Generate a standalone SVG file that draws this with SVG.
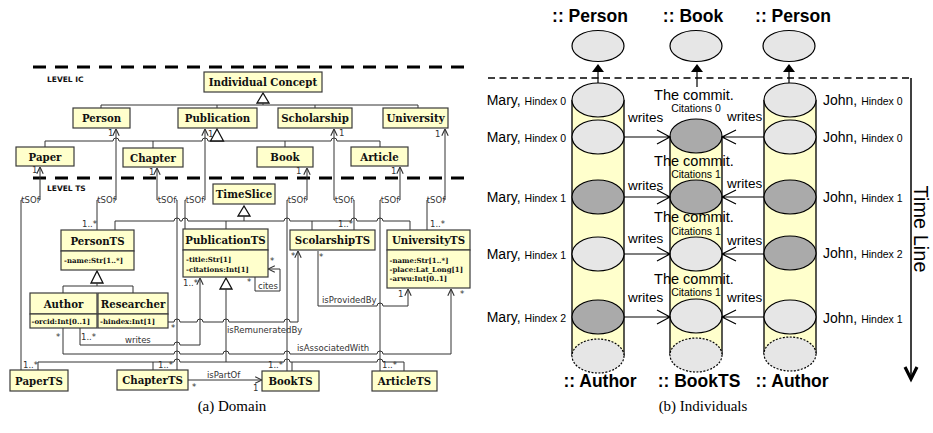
<svg xmlns="http://www.w3.org/2000/svg" width="933" height="433" viewBox="0 0 933 433">
<style>
.bx{fill:#ffffcc;stroke:#3a3a3a;stroke-width:1.2}
.cn{font-family:"DejaVu Serif",serif;font-weight:bold;font-size:10.2px;text-anchor:middle;fill:#111}
.at{font-family:"DejaVu Serif",serif;font-weight:bold;font-size:7px;fill:#111}
.lb{font-family:"DejaVu Sans",sans-serif;font-size:8.5px;fill:#333}
.lv{font-family:"DejaVu Sans",sans-serif;font-weight:bold;font-size:7.5px;fill:#111}
.ln{fill:none;stroke:#333;stroke-width:1}
.tri{fill:#fff;stroke:#111;stroke-width:1.3}
.dl{fill:none;stroke:#000;stroke-width:3;stroke-dasharray:13 9}
.wb{fill:#fff}
.cap{font-family:"Liberation Serif",serif;font-size:15px;fill:#000;text-anchor:middle}
.ti{font-family:"Liberation Sans",sans-serif;font-weight:bold;font-size:17.5px;text-anchor:middle}
.el{stroke:#000;stroke-width:1.2}
.lt{fill:#e6e6e6}
.dk{fill:#aaaaaa}
.cy{fill:#ffffcc}
.dsh{stroke-dasharray:2 1.5}
.sd{fill:none;stroke:#000;stroke-width:1.3}
.nm{font-family:"Liberation Sans",sans-serif;font-size:14px}
.sm{font-size:10.5px}
.wr{font-family:"Liberation Sans",sans-serif;font-size:13.5px}
.cm{font-family:"Liberation Sans",sans-serif;font-size:14.5px;text-anchor:middle}
.ct{font-family:"Liberation Sans",sans-serif;font-size:10.5px;text-anchor:middle}
.ar{fill:none;stroke:#000;stroke-width:1.2}
</style>
<defs>
<marker id="oa" viewBox="0 0 10 10" refX="9.5" refY="5" markerWidth="8" markerHeight="8" orient="auto-start-reverse" markerUnits="userSpaceOnUse"><path d="M1,1 L9.5,5 L1,9" fill="none" stroke="#333" stroke-width="1.4"/></marker>
</defs>

<!-- ===== (a) Domain ===== -->
<g id="levels">
<path class="dl" d="M33,67 H466"/>
<path class="dl" d="M33,178 H466"/>
<text class="lv" x="47" y="82">LEVEL IC</text>
<text class="lv" x="47" y="191">LEVEL TS</text>
</g>

<g id="domain-connectors">
<path class="tri" d="M263,93 L257,103 L269,103 Z"/>
<path class="ln" d="M263,103 V105 M101,108 V105 H418 V108 M217,105 V108 M315,105 V108"/>
<path class="ln" d="M45,147 V141 H113 a3,3 0 0 1 6,0 H202 a3,3 0 0 1 6,0 H331 a3,3 0 0 1 6,0 H380 V147 M153,141 V148 M285,141 V147"/>
<path class="tri" d="M217,129 L210.5,141 L223.5,141 Z"/>
<path class="ln" marker-start="url(#oa)" d="M40,167 V200 H21 V370"/>
<path class="ln" marker-start="url(#oa)" d="M116,129 V200 H97 V230"/>
<path class="ln" marker-start="url(#oa)" d="M157,168 V200 H177 V370"/>
<path class="ln" marker-start="url(#oa)" d="M205,129 V200 H185 V229"/>
<path class="ln" marker-start="url(#oa)" d="M307,168 V200 H287 V371"/>
<path class="ln" marker-start="url(#oa)" d="M334,129 V200 H354 V230"/>
<path class="ln" marker-start="url(#oa)" d="M400,167 V200 H380 V371"/>
<path class="ln" marker-start="url(#oa)" d="M445,129 V200 H427 V230"/>
<rect class="wb" x="22" y="195" width="17" height="9"/><text class="lb" x="30.5" y="203" text-anchor="middle">tSOf</text>
<rect class="wb" x="98" y="195" width="17" height="9"/><text class="lb" x="106.5" y="203" text-anchor="middle">tSOf</text>
<rect class="wb" x="158" y="195" width="18" height="9"/><text class="lb" x="167" y="203" text-anchor="middle">tSOf</text>
<rect class="wb" x="186" y="195" width="18" height="9"/><text class="lb" x="195" y="203" text-anchor="middle">tSOf</text>
<rect class="wb" x="288" y="195" width="18" height="9"/><text class="lb" x="297" y="203" text-anchor="middle">tSOf</text>
<rect class="wb" x="335" y="195" width="18" height="9"/><text class="lb" x="344" y="203" text-anchor="middle">tSOf</text>
<rect class="wb" x="381" y="195" width="18" height="9"/><text class="lb" x="390" y="203" text-anchor="middle">tSOf</text>
<rect class="wb" x="428" y="195" width="16" height="9"/><text class="lb" x="436" y="203" text-anchor="middle">tSOf</text>
<path class="tri" d="M244,206 L238,216 L250,216 Z"/>
<path class="ln" d="M244,216 V221 M115,230 V221 H174 a3,3 0 0 1 6,0 H182 a3,3 0 0 1 6,0 H284 a3,3 0 0 1 6,0 H351 a3,3 0 0 1 6,0 H377 a3,3 0 0 1 6,0 H410 V230 M226,221 V229 M312,221 V230"/>
<path class="tri" d="M97,271 L91,283 L103,283 Z"/>
<path class="ln" d="M97,283 V286 M63,293 V286 H133 V293"/>
<path class="tri" d="M226,278 L220,289 L232,289 Z"/>
<path class="ln" d="M226,289 V362 M38,370 V362 H174 a3,3 0 0 1 6,0 H284 a3,3 0 0 1 6,0 H377 a3,3 0 0 1 6,0 H404 V371 M153,362 V370 M292,362 V371"/>
<path class="ln" marker-end="url(#oa)" d="M80,328 V345 H174 a3,3 0 0 1 6,0 H200 V278"/>
<path class="ln" marker-end="url(#oa)" d="M63,328 V354 H174 a3,3 0 0 1 6,0 H223 a3,3 0 0 1 6,0 H284 a3,3 0 0 1 6,0 H377 a3,3 0 0 1 6,0 H451 V289"/>
<path class="ln" marker-end="url(#oa)" d="M168,322 H174 a3,3 0 0 1 6,0 H197 a3,3 0 0 1 6,0 H223 a3,3 0 0 1 6,0 H284 a3,3 0 0 1 6,0 H298 V251"/>
<path class="ln" marker-end="url(#oa)" d="M318,251 V306 H377 a3,3 0 0 1 6,0 H408 V289"/>
<path class="ln" marker-start="url(#oa)" d="M268,269 H280 V291 H255 V277"/>
<path class="ln" marker-end="url(#oa)" d="M188,380 H262"/>
<text class="lb" x="125" y="343">writes</text>
<text class="lb" x="297" y="351">isAssociatedWith</text>
<text class="lb" x="227" y="333">isRemuneratedBy</text>
<text class="lb" x="322" y="303">isProvidedBy</text>
<text class="lb" x="258" y="289">cites</text>
<text class="lb" x="207" y="378">isPartOf</text>
<text class="lb" x="108" y="136">1</text>
<text class="lb" x="208" y="137">1</text>
<text class="lb" x="339" y="136">1</text>
<text class="lb" x="435" y="137">1</text>
<text class="lb" x="32" y="173">1</text>
<text class="lb" x="149" y="175">1</text>
<text class="lb" x="296" y="174">1</text>
<text class="lb" x="391" y="174">1</text>
<text class="lb" x="82" y="227">1..*</text>
<text class="lb" x="338" y="227">1..*</text>
<text class="lb" x="430" y="227">1..*</text>
<text class="lb" x="23" y="368">1..*</text>
<text class="lb" x="158" y="368">1..*</text>
<text class="lb" x="268" y="368">1..*</text>
<text class="lb" x="382" y="368">1..*</text>
<text class="lb" x="183" y="286">1..*</text>
<text class="lb" x="81" y="340">1..*</text>
<text class="lb" x="56" y="340">*</text>
<text class="lb" x="460" y="297">*</text>
<text class="lb" x="171" y="331">*</text>
<text class="lb" x="291" y="259">*</text>
<text class="lb" x="319" y="260">*</text>
<text class="lb" x="398" y="297">1</text>
<text class="lb" x="270" y="264">*</text>
<text class="lb" x="247" y="285">*</text>
<text class="lb" x="192" y="390">*</text>
<text class="lb" x="253" y="391">1</text>
</g>

<g id="IndividualConcept"><rect class="bx" x="204" y="72" width="118" height="20"/><text class="cn" x="263" y="86">Individual Concept</text></g>
<g id="Person"><rect class="bx" x="73" y="108" width="57" height="20"/><text class="cn" x="101.5" y="122">Person</text></g>
<g id="Publication"><rect class="bx" x="178" y="108" width="79" height="20"/><text class="cn" x="217.5" y="122">Publication</text></g>
<g id="Scholarship"><rect class="bx" x="278" y="108" width="74" height="20"/><text class="cn" x="315" y="122">Scholarship</text></g>
<g id="University"><rect class="bx" x="383" y="108" width="65" height="20"/><text class="cn" x="415.5" y="122">University</text></g>
<g id="Paper"><rect class="bx" x="16" y="147" width="58" height="19"/><text class="cn" x="45" y="160.5">Paper</text></g>
<g id="Chapter"><rect class="bx" x="123" y="148" width="60" height="19"/><text class="cn" x="153" y="161.5">Chapter</text></g>
<g id="Book"><rect class="bx" x="257" y="147" width="56" height="20"/><text class="cn" x="285" y="161">Book</text></g>
<g id="Article"><rect class="bx" x="351" y="147" width="57" height="19"/><text class="cn" x="379.5" y="160.5">Article</text></g>

<g id="TimeSlice"><rect class="bx" x="213" y="184" width="62" height="20"/><text class="cn" x="244" y="198">TimeSlice</text></g>
<g id="PersonTS"><rect class="bx" x="61" y="230" width="73" height="21"/><rect class="bx" x="61" y="251" width="73" height="19"/><text class="cn" x="97.5" y="244.5">PersonTS</text><text class="at" x="64" y="263">-name:Str[1..*]</text></g>
<g id="PublicationTS"><rect class="bx" x="183" y="229" width="85" height="21"/><rect class="bx" x="183" y="250" width="85" height="27"/><text class="cn" x="225.5" y="243.5">PublicationTS</text><text class="at" x="186" y="262">-title:Str[1]</text><text class="at" x="186" y="272">-citations:Int[1]</text></g>
<g id="ScolarshipTS"><rect class="bx" x="290" y="230" width="85" height="20"/><text class="cn" x="332.5" y="244">ScolarshipTS</text></g>
<g id="UniversityTS"><rect class="bx" x="387" y="230" width="83" height="20"/><rect class="bx" x="387" y="250" width="83" height="38"/><text class="cn" x="428.5" y="244">UniversityTS</text><text class="at" x="389.5" y="263">-name:Str[1..*]</text><text class="at" x="389.5" y="272">-place:Lat_Long[1]</text><text class="at" x="389.5" y="281">-arwu:Int[0..1]</text></g>
<g id="Author"><rect class="bx" x="30" y="293" width="67" height="21"/><rect class="bx" x="30" y="314" width="67" height="14"/><text class="cn" x="63.5" y="307.5">Author</text><text class="at" x="31.5" y="324">-orcid:Int[0..1]</text></g>
<g id="Researcher"><rect class="bx" x="98" y="293" width="70" height="21"/><rect class="bx" x="98" y="314" width="70" height="14"/><text class="cn" x="133" y="307.5">Researcher</text><text class="at" x="100" y="324">-hindex:Int[1]</text></g>
<g id="PaperTS"><rect class="bx" x="10" y="370" width="58" height="21"/><text class="cn" x="39" y="384.5">PaperTS</text></g>
<g id="ChapterTS"><rect class="bx" x="117" y="370" width="71" height="20"/><text class="cn" x="152.5" y="384">ChapterTS</text></g>
<g id="BookTS"><rect class="bx" x="262" y="371" width="57" height="20"/><text class="cn" x="290.5" y="385">BookTS</text></g>
<g id="ArticleTS"><rect class="bx" x="372" y="371" width="65" height="20"/><text class="cn" x="404.5" y="385">ArticleTS</text></g>

<text class="cap" x="232" y="411">(a) Domain</text>

<!-- ===== (b) Individuals ===== -->
<g id="timeline">
<path d="M488,78 H911" fill="none" stroke="#000" stroke-width="1.5" stroke-dasharray="7 4.5"/>
<path d="M911,78 V378" fill="none" stroke="#000" stroke-width="1.5"/>
<polyline points="905,367 911,379 917,367" fill="none" stroke="#000" stroke-width="3.2"/>
<text transform="translate(914,229) rotate(90)" font-family="Liberation Sans, sans-serif" font-size="20" text-anchor="middle">Time Line</text>
</g>

<g id="PersonMary">
<ellipse class="el lt" cx="598" cy="46" rx="26" ry="15.5"/>
<text class="ti" x="590" y="22">:: Person</text>
</g>
<g id="BookCommit">
<ellipse class="el lt" cx="696" cy="46" rx="26" ry="15.5"/>
<text class="ti" x="693" y="22">:: Book</text>
</g>
<g id="PersonJohn">
<ellipse class="el lt" cx="789" cy="46" rx="26" ry="15.5"/>
<text class="ti" x="793" y="22">:: Person</text>
</g>

<g id="AuthorMary">
<rect class="cy" x="572" y="100" width="52" height="256"/>
<path class="sd" d="M572,100 V356 M624,100 V356"/>
<ellipse class="el lt" cx="598" cy="100" rx="26" ry="17"/>
<ellipse class="el lt" cx="598" cy="137" rx="26" ry="17"/>
<ellipse class="el dk" cx="598" cy="197" rx="26" ry="17"/>
<ellipse class="el lt" cx="598" cy="254" rx="26" ry="17"/>
<ellipse class="el dk" cx="598" cy="317" rx="26" ry="17"/>
<ellipse class="el lt dsh" cx="598" cy="356" rx="26" ry="17"/>
<text class="ti" x="600" y="387">:: Author</text>
<text class="nm" x="566" y="105" text-anchor="end">Mary, <tspan class="sm">Hindex 0</tspan></text>
<text class="nm" x="566" y="142" text-anchor="end">Mary, <tspan class="sm">Hindex 0</tspan></text>
<text class="nm" x="566" y="202" text-anchor="end">Mary, <tspan class="sm">Hindex 1</tspan></text>
<text class="nm" x="566" y="259" text-anchor="end">Mary, <tspan class="sm">Hindex 1</tspan></text>
<text class="nm" x="566" y="322" text-anchor="end">Mary, <tspan class="sm">Hindex 2</tspan></text>
</g>

<g id="BookTSCommit">
<rect class="cy" x="670" y="136" width="52" height="219"/>
<path class="sd" d="M670,136 V355 M722,136 V355"/>
<ellipse class="el dk" cx="696" cy="136" rx="26" ry="17"/>
<ellipse class="el dk" cx="696" cy="197" rx="26" ry="17"/>
<ellipse class="el lt" cx="696" cy="254" rx="26" ry="17"/>
<ellipse class="el lt" cx="696" cy="316" rx="26" ry="17"/>
<ellipse class="el lt dsh" cx="696" cy="355" rx="26" ry="17"/>
<text class="ti" x="699" y="387">:: BookTS</text>
<text class="cm" x="694" y="100">The commit.</text>
<text class="ct" x="696" y="112">Citations 0</text>
<text class="cm" x="694" y="166">The commit.</text>
<text class="ct" x="696" y="178">Citations 1</text>
<text class="cm" x="694" y="222">The commit.</text>
<text class="ct" x="696" y="235">Citations 1</text>
<text class="cm" x="694" y="284">The commit.</text>
<text class="ct" x="696" y="296">Citations 1</text>
</g>

<g id="AuthorJohn">
<rect class="cy" x="764" y="100" width="52" height="254"/>
<path class="sd" d="M764,100 V354 M816,100 V354"/>
<ellipse class="el lt" cx="790" cy="100" rx="26" ry="17"/>
<ellipse class="el lt" cx="790" cy="137" rx="26" ry="17"/>
<ellipse class="el dk" cx="790" cy="197" rx="26" ry="17"/>
<ellipse class="el dk" cx="790" cy="253" rx="26" ry="17"/>
<ellipse class="el lt" cx="790" cy="317" rx="26" ry="17"/>
<ellipse class="el lt dsh" cx="790" cy="354" rx="26" ry="17"/>
<text class="ti" x="792" y="387">:: Author</text>
<text class="nm" x="823" y="105">John, <tspan class="sm">Hindex 0</tspan></text>
<text class="nm" x="823" y="142">John, <tspan class="sm">Hindex 0</tspan></text>
<text class="nm" x="823" y="202">John, <tspan class="sm">Hindex 1</tspan></text>
<text class="nm" x="823" y="258">John, <tspan class="sm">Hindex 2</tspan></text>
<text class="nm" x="823" y="323">John, <tspan class="sm">Hindex 1</tspan></text>
</g>

<g id="individual-connectors">
<path class="ar" d="M598,72 V83 M697,72 V87 M789,72 V83"/>
<path d="M598,64 L592,72 L604,72 Z M697,64 L691,72 L703,72 Z M789,64 L783,72 L795,72 Z" fill="#000"/>
<path class="ar" d="M624,137 H670 M657,130 L670,137 L657,144 M624,197 H670 M657,190 L670,197 L657,204 M624,254 H670 M657,247 L670,254 L657,261 M624,317 H670 M657,310 L670,317 L657,324"/>
<path class="ar" d="M764,137 H722 M736,130 L722,137 L736,144 M764,197 H722 M736,190 L722,197 L736,204 M764,254 H722 M736,247 L722,254 L736,261 M764,317 H722 M736,310 L722,317 L736,324"/>
<text class="wr" x="628" y="122">writes</text>
<text class="wr" x="628" y="190">writes</text>
<text class="wr" x="628" y="243">writes</text>
<text class="wr" x="628" y="302">writes</text>
<text class="wr" x="727" y="121">writes</text>
<text class="wr" x="727" y="188">writes</text>
<text class="wr" x="727" y="245">writes</text>
<text class="wr" x="727" y="302">writes</text>
</g>

<text class="cap" x="703" y="411">(b) Individuals</text>
</svg>
